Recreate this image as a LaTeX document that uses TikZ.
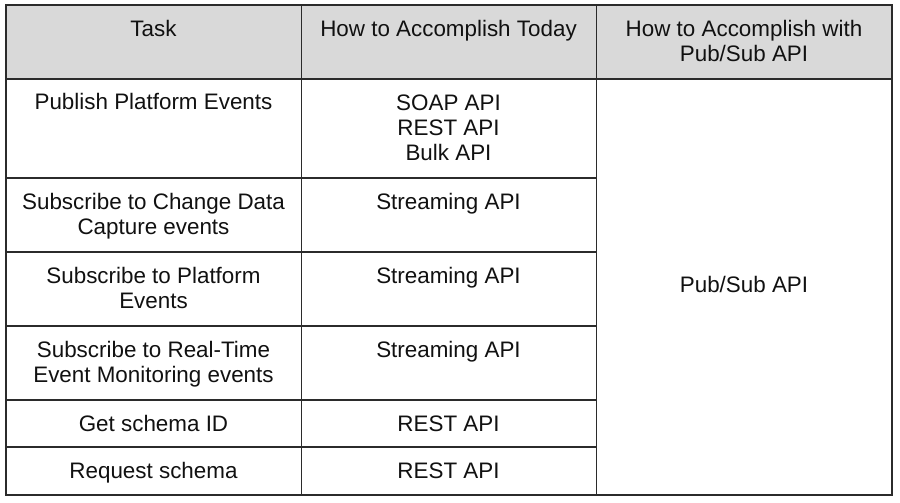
\documentclass[tikz,border=0pt]{standalone}
\usepackage{fontspec}
\setmainfont{Liberation Sans}
\definecolor{hdrfill}{HTML}{D9D9D9}
\definecolor{gridcol}{HTML}{2B2B2B}
\definecolor{txtcol}{HTML}{111111}
\tikzset{
  cell/.style={anchor=base, inner sep=0pt, align=center, text=txtcol,
    font=\fontsize{22.4}{25}\selectfont},
  gridline/.style={draw=gridcol, line width=1.6pt}
}
\begin{document}
\begin{tikzpicture}[x=1pt,y=-1pt]
\useasboundingbox (0,0) rectangle (900,503);
\fill[white] (0,0) rectangle (900,503);
% header background
\fill[hdrfill] (6,5) rectangle (892,79);
% grid
\draw[gridline] (6,5) rectangle (892,495);
\draw[gridline] (6,79) -- (892,79);
\draw[gridline] (301.5,5) -- (301.5,495);
\draw[gridline] (596.5,5) -- (596.5,495);
\foreach \yy in {178,252,326,400,447} {
  \draw[gridline] (6,\yy) -- (596.5,\yy);
}
% header (anchor base = baseline of the last line)
\node[cell] (h1) at (153.5,37) {Task};
\node[cell] (h2) at (448.5,37) {How to Accomplish Today};
\node[cell] (h3) at (744,62) {How to Accomplish with\\Pub/Sub API};
% column 1
\node[cell] (t1) at (153.5,110) {Publish Platform Events};
\node[cell] (t2) at (153.5,234) {Subscribe to Change Data\\Capture events};
\node[cell] (t3) at (153.5,308) {Subscribe to Platform\\Events};
\node[cell] (t4) at (153.5,382) {Subscribe to Real-Time\\Event Monitoring events};
\node[cell] (t5) at (153.5,431) {Get schema ID};
\node[cell] (t6) at (153.5,478) {Request schema};
% column 2
\node[cell] (a1) at (448.5,160) {SOAP API\\REST API\\Bulk API};
\node[cell] (a2) at (448.5,209) {Streaming API};
\node[cell] (a3) at (448.5,283) {Streaming API};
\node[cell] (a4) at (448.5,357) {Streaming API};
\node[cell] (a5) at (448.5,431) {REST API};
\node[cell] (a6) at (448.5,478) {REST API};
% column 3
\node[cell] (p1) at (744,292) {Pub/Sub API};
\end{tikzpicture}
\end{document}
